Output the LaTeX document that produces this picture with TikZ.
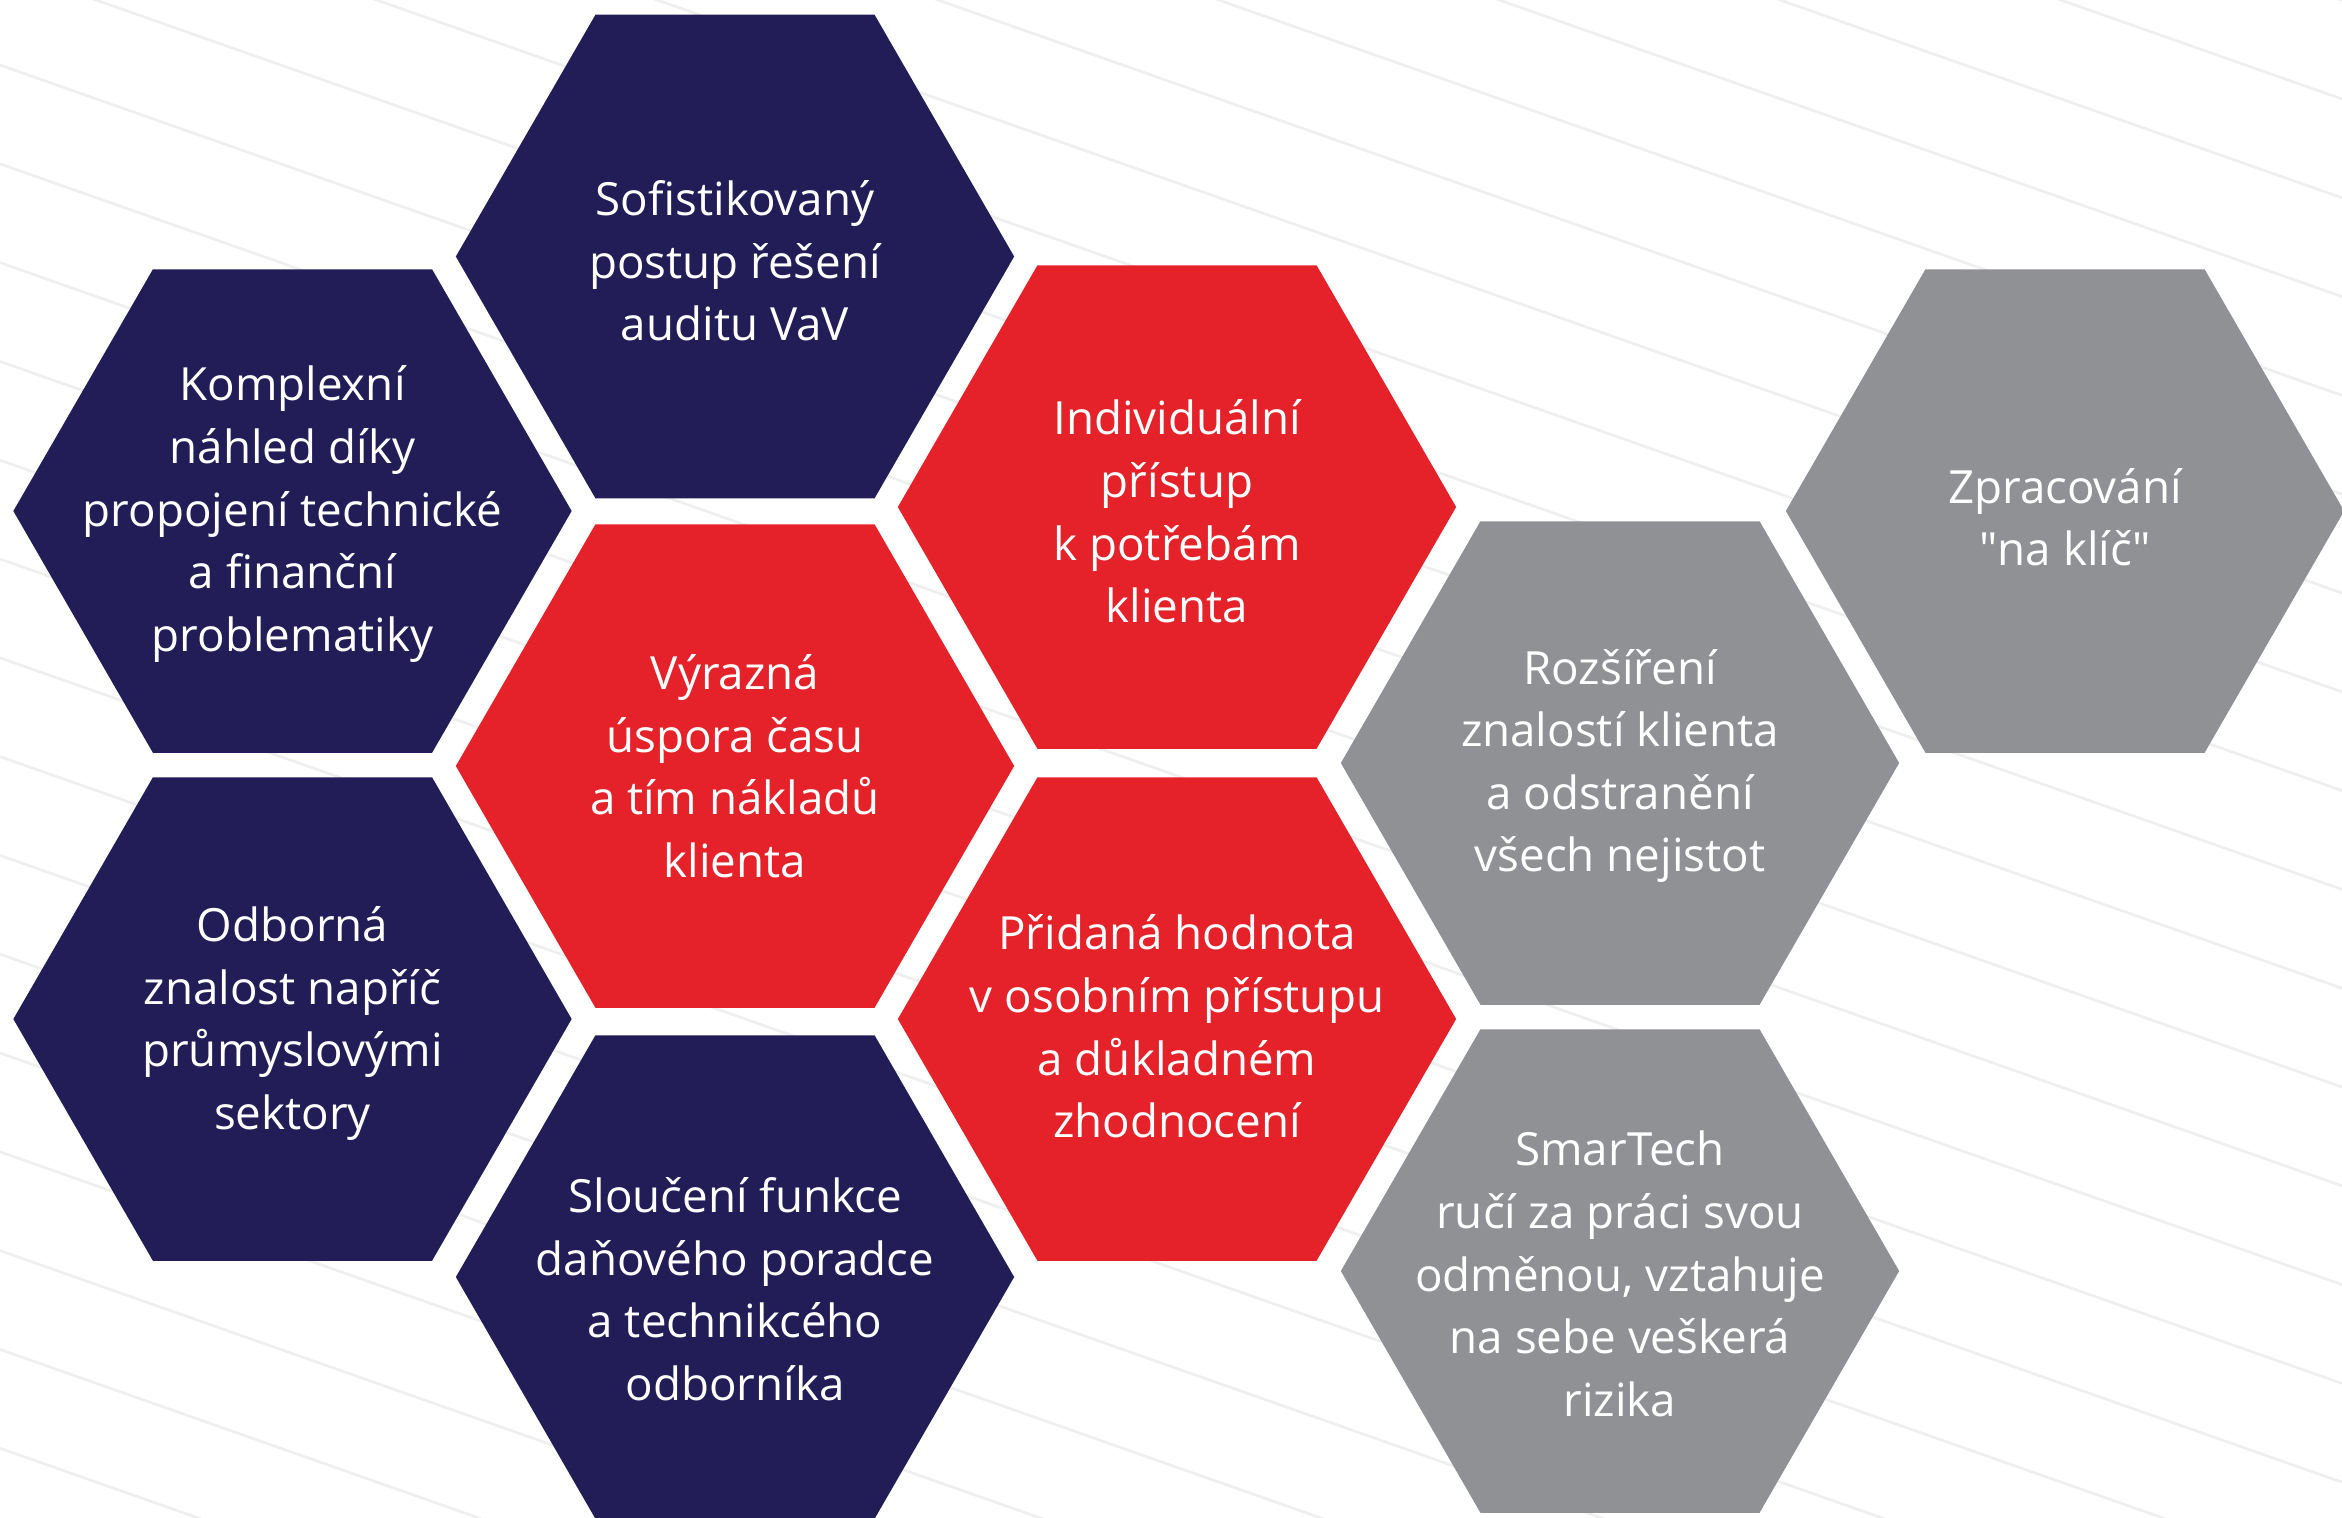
\documentclass[tikz,border=0pt]{standalone}
\usepackage{fontspec}
\setmainfont{Open Sans}
\usetikzlibrary{shapes.geometric}

\definecolor{hexnavy}{HTML}{221C57}
\definecolor{hexred}{HTML}{E52129}
\definecolor{hexgray}{HTML}{909195}
\definecolor{stripe}{HTML}{EFEFEF}

\tikzset{
  hex/.style={regular polygon, regular polygon sides=6, inner sep=0pt, minimum size=5.58cm},
  hextext/.style={text=white, align=center, font=\fontsize{13}{17.8}\selectfont}
}

\begin{document}
\begin{tikzpicture}[x=0.01cm,y=-0.01cm]
  \useasboundingbox (0,0) rectangle (2342,1517);
  \begin{scope}
    \clip (0,0) rectangle (2342,1517);
    \foreach \k in {-9,...,14}
      \draw[stripe, line width=0.027cm] (0,{65+98.8*\k}) -- (2342,{889.4+98.8*\k});
  \end{scope}

  \node[hex, fill=hexnavy] (sofist) at (735,256.5) {};
  \node[hex, fill=hexnavy] (kompl) at (292.5,511) {};
  \node[hex, fill=hexnavy] (odbor) at (292.5,1019) {};
  \node[hex, fill=hexnavy] (slouc) at (735,1277) {};
  \node[hex, fill=hexred] (vyraz) at (735,766) {};
  \node[hex, fill=hexred] (indiv) at (1177,507) {};
  \node[hex, fill=hexred] (prida) at (1177,1019) {};
  \node[hex, fill=hexgray] (rozsi) at (1620,763) {};
  \node[hex, fill=hexgray] (smart) at (1620,1271) {};
  \node[hex, fill=hexgray] (zprac) at (2065,511) {};

  \node[hextext] (sofist-t) at (735,261) {Sofistikovaný\\postup řešení\\auditu VaV};
  \node[hextext] (kompl-t) at (292.5,514) {Komplexní\\náhled díky\\propojení technické\\a finanční\\problematiky};
  \node[hextext] (odbor-t) at (292.5,1023.5) {Odborná\\znalost napříč\\průmyslovými\\sektory};
  \node[hextext] (slouc-t) at (735,1289) {Sloučení funkce\\daňového poradce\\a technikcého\\odborníka};
  \node[hextext] (vyraz-t) at (735,766) {Výrazná\\úspora času\\a tím nákladů\\klienta};
  \node[hextext] (indiv-t) at (1177,511.5) {Individuální\\přístup\\k potřebám\\klienta};
  \node[hextext] (prida-t) at (1177,1026.5) {Přidaná hodnota\\v osobním přístupu\\a důkladném\\zhodnocení};
  \node[hextext] (rozsi-t) at (1620,766) {Rozšíření\\znalostí klienta\\a odstranění\\všech nejistot};
  \node[hextext] (smart-t) at (1620,1274) {SmarTech\\ručí za práci svou\\odměnou, vztahuje\\na sebe veškerá\\rizika};
  \node[hextext] (zprac-t) at (2065,517) {Zpracování\\\textquotedbl na klíč\textquotedbl};
\end{tikzpicture}
\end{document}
